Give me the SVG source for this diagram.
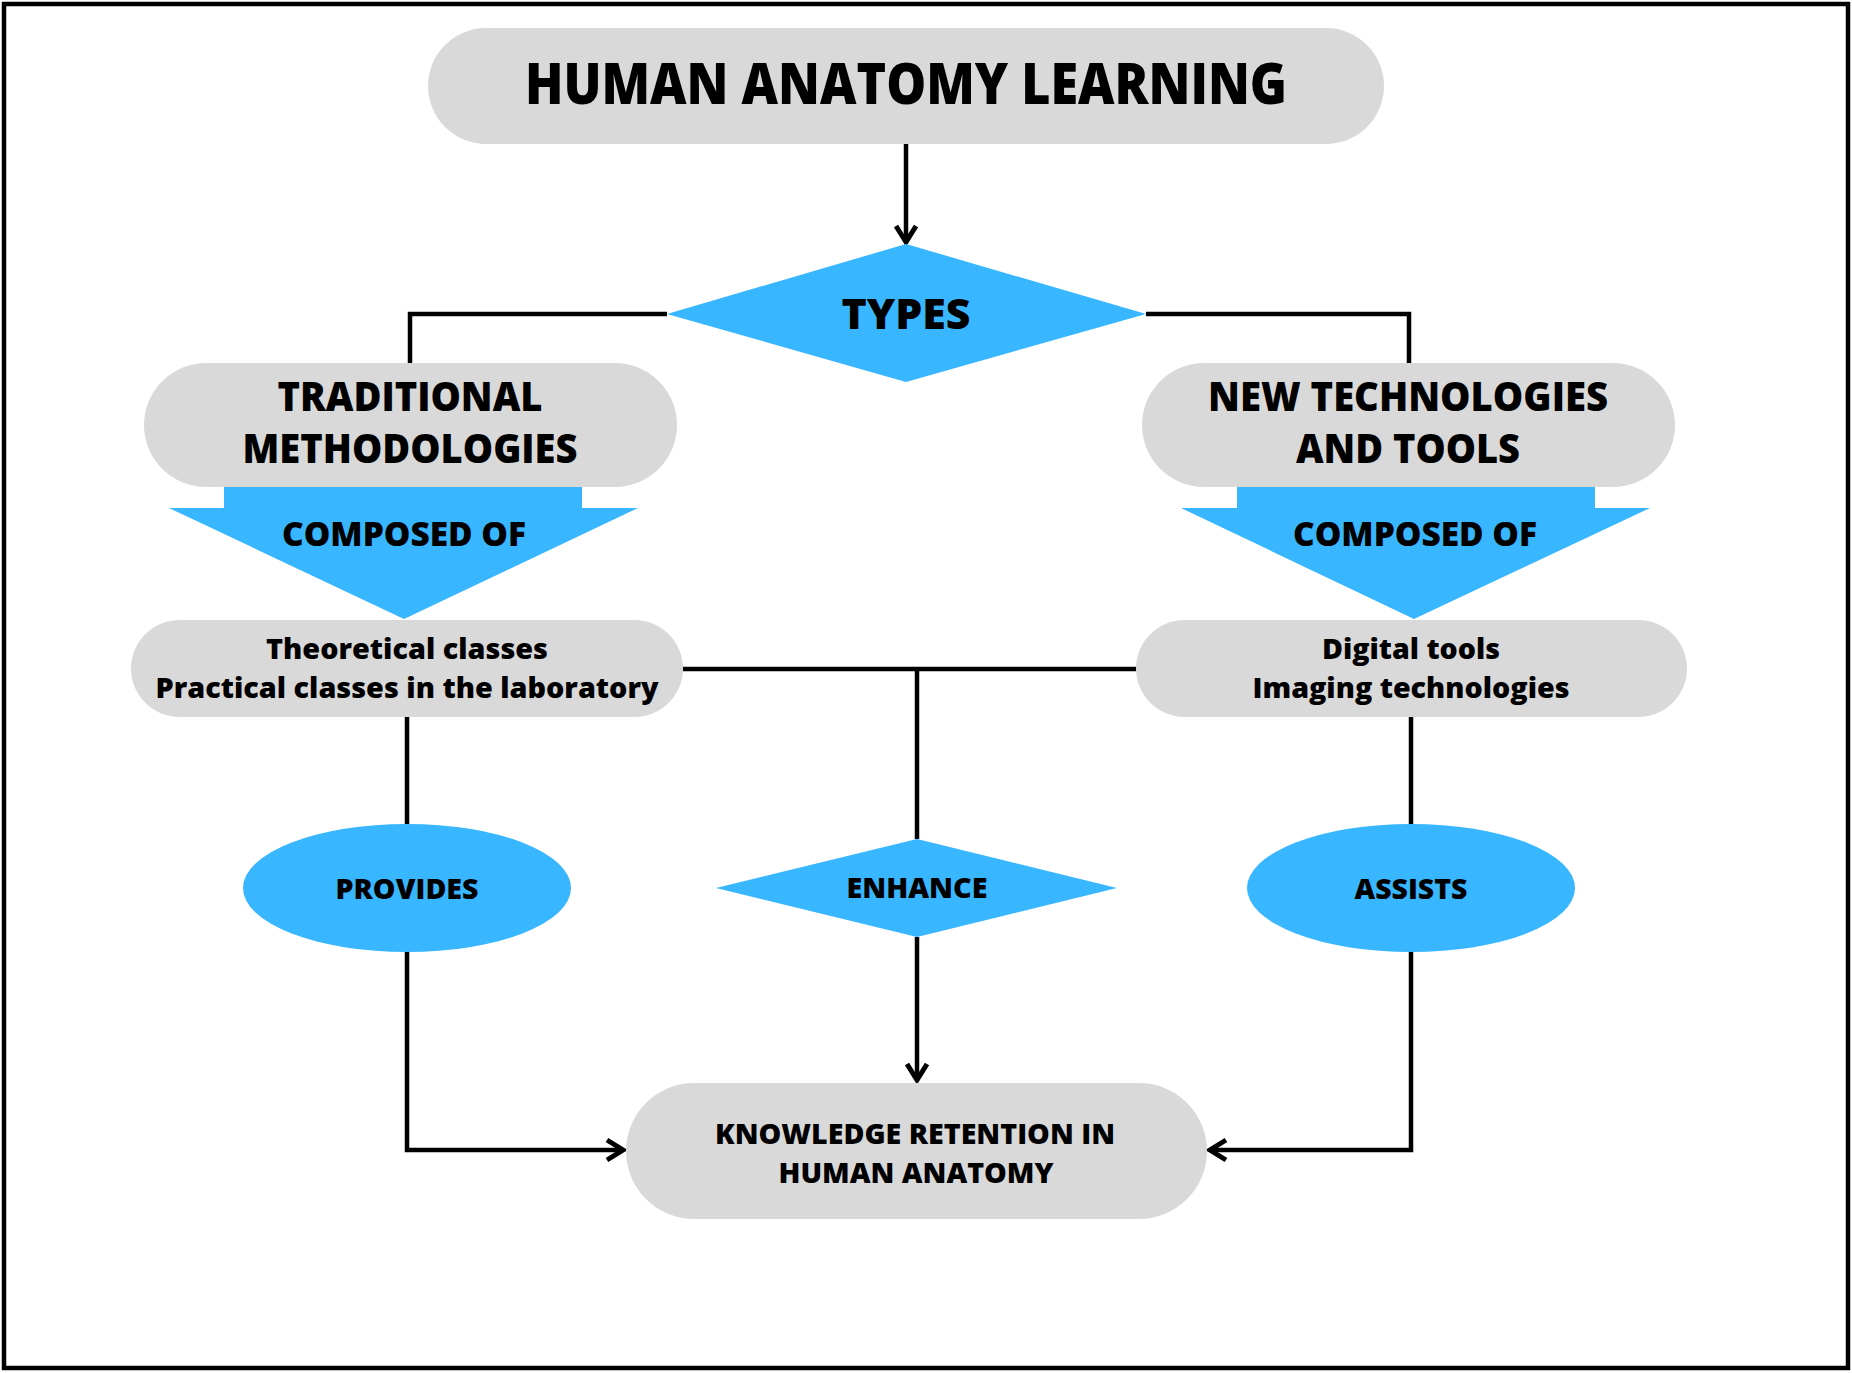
<svg xmlns="http://www.w3.org/2000/svg" width="1852" height="1373" viewBox="0 0 1852 1373">
<style>
.pill{fill:#D9D9D9}
.blue{fill:#38B6FF}
.t{font-family:"Open Sans","Liberation Sans",sans-serif;font-weight:800;fill:#000;text-anchor:middle}
.c{fill:none;stroke:#000;stroke-width:4.5}
</style>
<defs>
<marker id="ah" viewBox="0 0 26 26" refX="22" refY="13" markerWidth="26" markerHeight="26" markerUnits="userSpaceOnUse" orient="auto">
<path d="M6,3 L22,13 L6,23" fill="none" stroke="#000" stroke-width="5" stroke-linejoin="miter"/>
</marker>
</defs>
<rect x="0" y="0" width="1852" height="1373" fill="#fff"/>
<rect x="4" y="4" width="1844" height="1364" fill="none" stroke="#000" stroke-width="4.5"/>

<g id="connectors">
<path class="c" d="M906,144 V242" marker-end="url(#ah)"/>
<path class="c" d="M667,314 H410 V364"/>
<path class="c" d="M1146,314 H1409 V364"/>
<path class="c" d="M683,669 H1136"/>
<path class="c" d="M917,669 V839"/>
<path class="c" d="M917,937 V1080" marker-end="url(#ah)"/>
<path class="c" d="M407,717 V824"/>
<path class="c" d="M1411,717 V824"/>
<path class="c" d="M407,952 V1150 H623" marker-end="url(#ah)"/>
<path class="c" d="M1411,952 V1150 H1210" marker-end="url(#ah)"/>
</g>

<g id="title">
<rect class="pill" x="428" y="28" width="956" height="116" rx="58"/>
<text class="t" x="906" y="104" font-size="56" textLength="762" lengthAdjust="spacingAndGlyphs">HUMAN ANATOMY LEARNING</text>
</g>

<g id="types">
<polygon class="blue" points="906,244 1146,314 906,382 667,314"/>
<text class="t" x="906" y="329" font-size="43" textLength="129" lengthAdjust="spacingAndGlyphs">TYPES</text>
</g>

<g id="traditional">
<rect class="pill" x="144" y="363" width="533" height="124" rx="62"/>
<text class="t" x="410" y="411" font-size="40" textLength="265" lengthAdjust="spacingAndGlyphs">TRADITIONAL</text>
<text class="t" x="410" y="463" font-size="40" textLength="335" lengthAdjust="spacingAndGlyphs">METHODOLOGIES</text>
</g>

<g id="newtech">
<rect class="pill" x="1142" y="363" width="533" height="124" rx="62"/>
<text class="t" x="1408" y="411" font-size="40" textLength="400" lengthAdjust="spacingAndGlyphs">NEW TECHNOLOGIES</text>
<text class="t" x="1408" y="463" font-size="40" textLength="224" lengthAdjust="spacingAndGlyphs">AND TOOLS</text>
</g>

<g id="composed-left">
<polygon class="blue" points="224,487 582,487 582,508 638,508 404,619 169,508 224,508"/>
<text class="t" x="404" y="546" font-size="33" textLength="244" lengthAdjust="spacingAndGlyphs">COMPOSED OF</text>
</g>

<g id="composed-right">
<polygon class="blue" points="1237,487 1595,487 1595,508 1650,508 1414,619 1181,508 1237,508"/>
<text class="t" x="1415" y="546" font-size="33" textLength="244" lengthAdjust="spacingAndGlyphs">COMPOSED OF</text>
</g>

<g id="theoretical">
<rect class="pill" x="131" y="620" width="552" height="97" rx="48.5"/>
<text class="t" x="407" y="659" font-size="28.5" textLength="282" lengthAdjust="spacingAndGlyphs">Theoretical classes</text>
<text class="t" x="407" y="698" font-size="28.5" textLength="503" lengthAdjust="spacingAndGlyphs">Practical classes in the laboratory</text>
</g>

<g id="digital">
<rect class="pill" x="1136" y="620" width="551" height="97" rx="48.5"/>
<text class="t" x="1411" y="659" font-size="28.5" textLength="178" lengthAdjust="spacingAndGlyphs">Digital tools</text>
<text class="t" x="1411" y="698" font-size="28.5" textLength="317" lengthAdjust="spacingAndGlyphs">Imaging technologies</text>
</g>

<g id="provides">
<ellipse class="blue" cx="407" cy="888" rx="164" ry="64"/>
<text class="t" x="407" y="899" font-size="29" textLength="143" lengthAdjust="spacingAndGlyphs">PROVIDES</text>
</g>

<g id="enhance">
<polygon class="blue" points="917,839 1117,888 917,937 716,888"/>
<text class="t" x="917" y="898" font-size="29" textLength="141" lengthAdjust="spacingAndGlyphs">ENHANCE</text>
</g>

<g id="assists">
<ellipse class="blue" cx="1411" cy="888" rx="164" ry="64"/>
<text class="t" x="1411" y="899" font-size="29" textLength="113" lengthAdjust="spacingAndGlyphs">ASSISTS</text>
</g>

<g id="knowledge">
<rect class="pill" x="626" y="1083" width="581" height="136" rx="68"/>
<text class="t" x="915" y="1144" font-size="29" textLength="400" lengthAdjust="spacingAndGlyphs">KNOWLEDGE RETENTION IN</text>
<text class="t" x="916" y="1183" font-size="29" textLength="275" lengthAdjust="spacingAndGlyphs">HUMAN ANATOMY</text>
</g>
</svg>
